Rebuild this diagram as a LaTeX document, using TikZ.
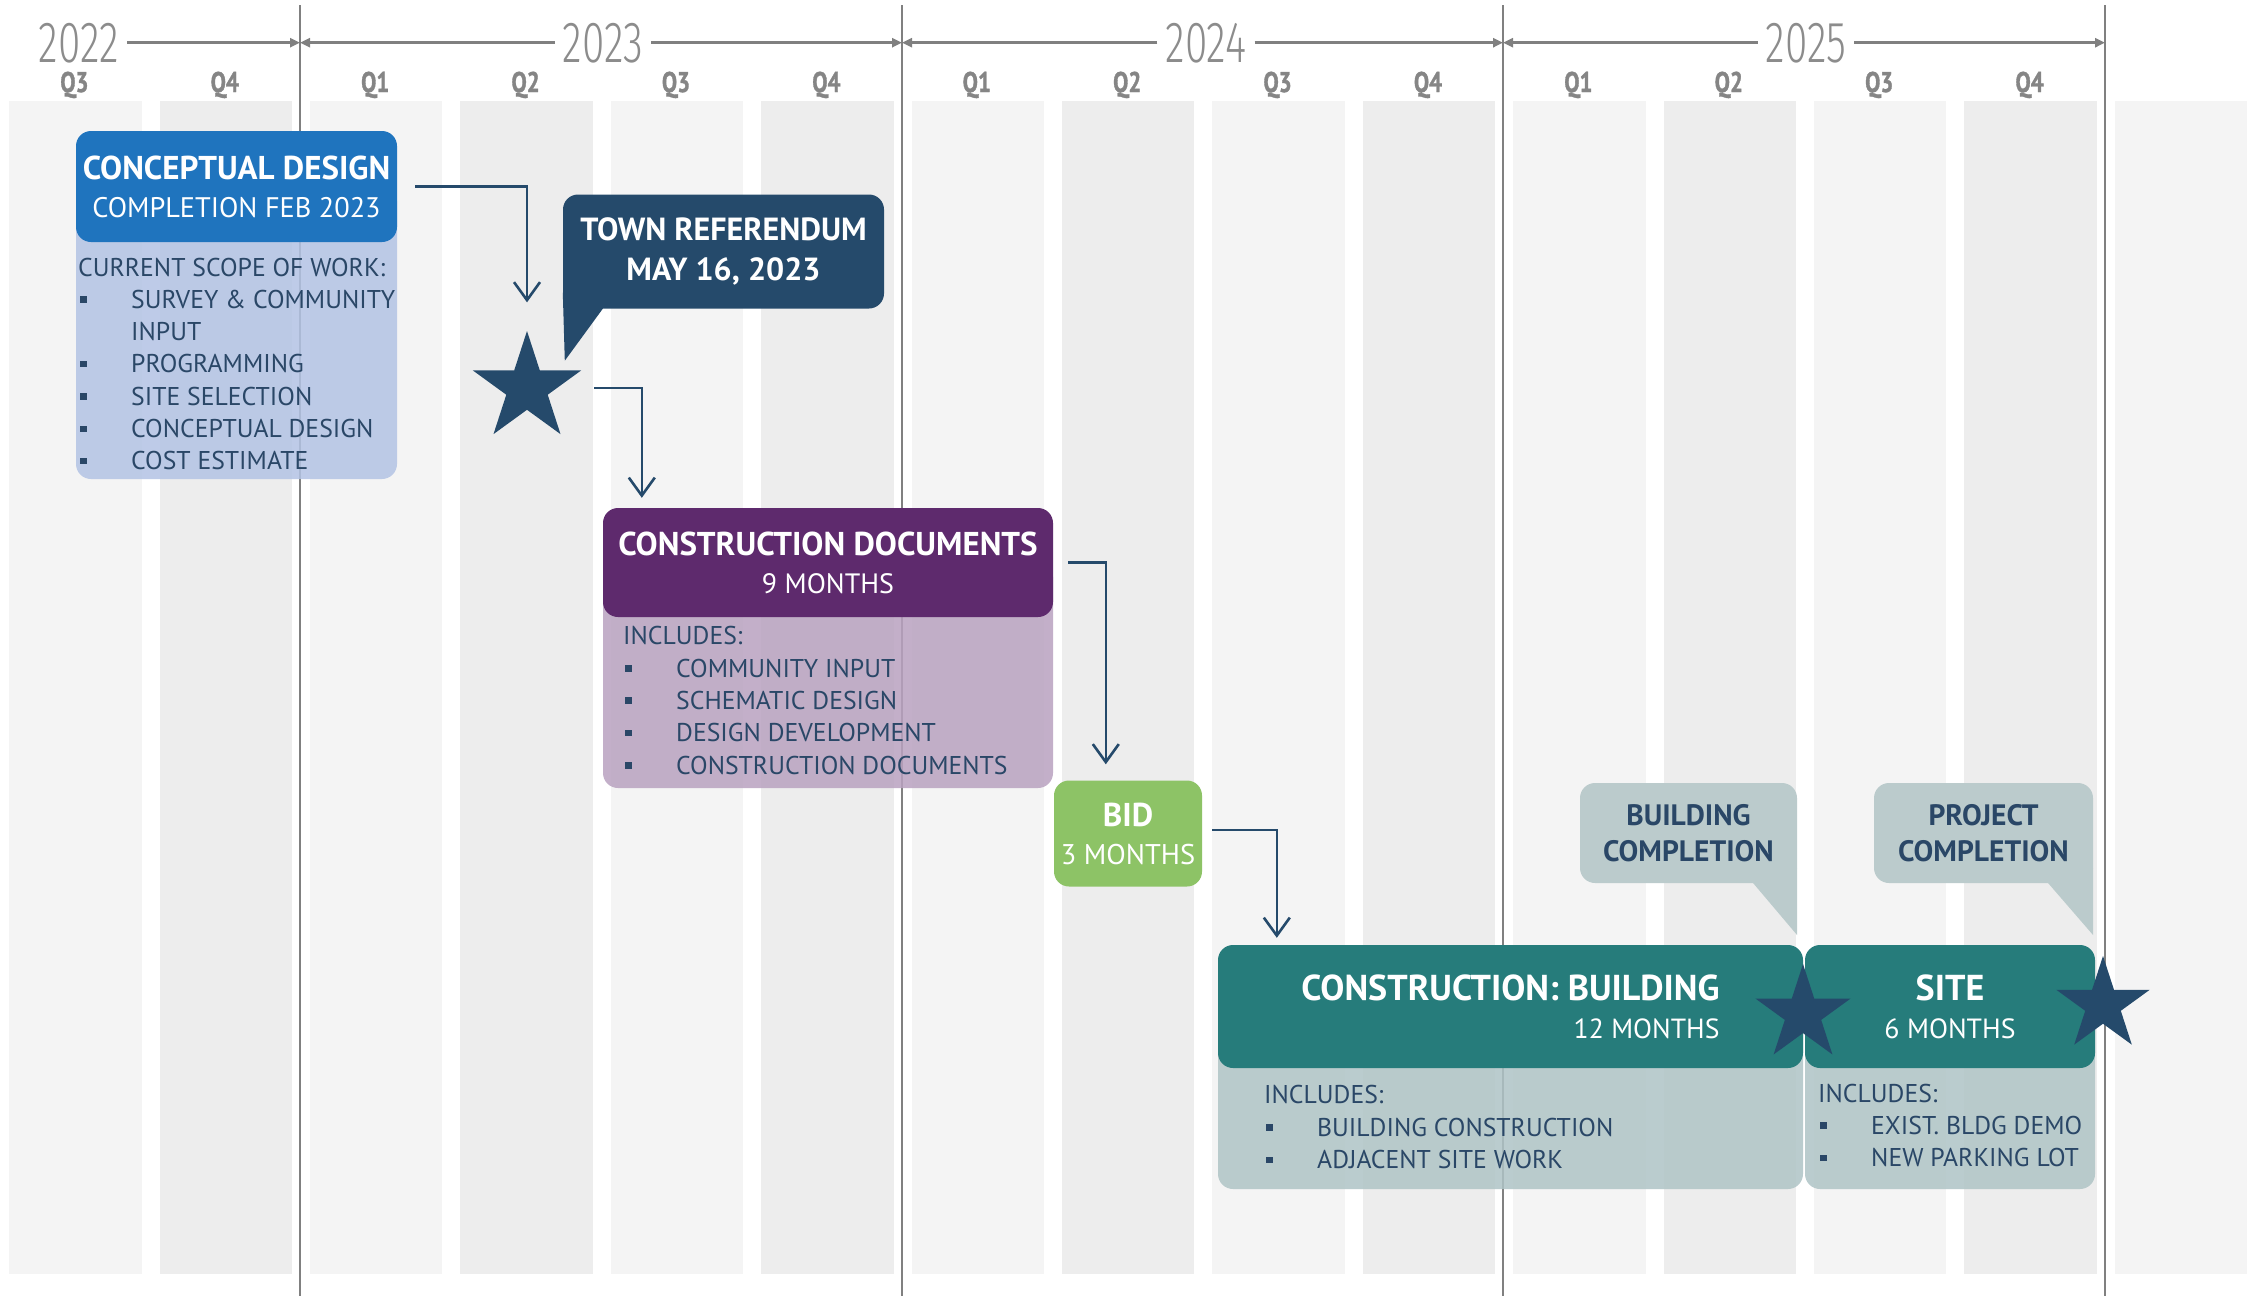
\documentclass[tikz,border=0pt]{standalone}
\usepackage{fontspec}
\setmainfont{PT Sans}
\newfontfamily\yearfont[FakeStretch=0.7]{Fira Sans Light}
\newfontfamily\qfont[FakeStretch=0.8,FakeBold=1.2]{PT Sans}
\usetikzlibrary{arrows.meta,shapes.geometric}
\definecolor{bandA}{HTML}{F4F4F4}
\definecolor{bandB}{HTML}{EDEDED}
\definecolor{yearline}{HTML}{808080}
\definecolor{yeartext}{HTML}{8C8C8C}
\definecolor{qtext}{HTML}{858585}
\definecolor{navy}{HTML}{254A6B}
\definecolor{cdblue}{HTML}{1F74BE}
\definecolor{cdbody}{HTML}{B3C3E4}
\definecolor{purp}{HTML}{5E2A6D}
\definecolor{purpbody}{HTML}{B9A2C0}
\definecolor{bidgreen}{HTML}{8DC366}
\definecolor{teal}{HTML}{267C7B}
\definecolor{tealbody}{HTML}{AFC4C6}
\definecolor{callcol}{HTML}{BBCBCC}
\definecolor{bodytext}{HTML}{2A4767}
\newcommand{\bulletitem}[1]{\makebox[53pt][l]{\hspace{2pt}\raisebox{5.5pt}{\rule{6.5pt}{6.5pt}}}#1}
\tikzset{
  hdr/.style={rectangle, rounded corners=15pt, inner sep=0pt, text=white, align=center,
    font=\fontsize{33}{38}\selectfont},
  callout/.style={rectangle, rounded corners=15pt, inner sep=0pt, fill=callcol, text=bodytext,
    align=center, font=\bfseries\fontsize{29.5}{36}\selectfont},
  bodytxt/.style={anchor=base west, inner sep=0pt, text=bodytext, font=\fontsize{25.7}{30}\selectfont},
  conn/.style={draw=navy, line width=2.6pt, -{Straight Barb[length=18pt,width=26pt]}},
  yeararr/.style={draw=yearline, line width=3pt, -{Triangle[length=10pt,width=9pt]}},
  yearlbl/.style={anchor=base, inner xsep=8pt, inner ysep=0pt, text=yeartext,
    font=\yearfont\fontsize{58}{58}\selectfont},
  qlbl/.style={anchor=base, inner sep=0pt, text=qtext, font=\qfont\bfseries\fontsize{28.5}{28.5}\selectfont},
  mstar/.style={star, star points=5, star point ratio=2.618, fill=navy, inner sep=0pt, draw=none},
  divline/.style={draw=yearline, line width=2.5pt},
  bodybox/.style={rounded corners=15pt, opacity=0.85}
}
\begin{document}
\begin{tikzpicture}[x=1pt,y=-1pt]
\useasboundingbox (0,0) rectangle (2262,1296);
\fill[white] (0,0) rectangle (2262,1296);
% quarter bands
\foreach \k in {0,...,14}{
  \pgfmathsetmacro\xs{-0.8+150.4*\k}
  \ifodd\k \def\bc{bandB}\else\def\bc{bandA}\fi
  \fill[\bc] (\xs+10,101) rectangle (\xs+142.4,1274);
}
% year dividers
\coordinate (d1) at (300,43);
\coordinate (d2) at (902,43);
\coordinate (d3) at (1503,43);
\coordinate (d4) at (2105,43);
\foreach \xx in {300,902,1503,2105}{
  \draw[divline] (\xx,5) -- (\xx,1296);
}
% years
\node[yearlbl] (y2022) at (79,62) {2022};
\node[yearlbl] (y2023) at (603,62) {2023};
\node[yearlbl] (y2024) at (1206,62) {2024};
\node[yearlbl] (y2025) at (1806,62) {2025};
\draw[yeararr] (y2022.east) -- (y2022.east -| d1);
\draw[yeararr] (y2023.west) -- (y2023.west -| d1);
\draw[yeararr] (y2023.east) -- (y2023.east -| d2);
\draw[yeararr] (y2024.west) -- (y2024.west -| d2);
\draw[yeararr] (y2024.east) -- (y2024.east -| d3);
\draw[yeararr] (y2025.west) -- (y2025.west -| d3);
\draw[yeararr] (y2025.east) -- (y2025.east -| d4);
% quarters
\foreach \k in {0,...,13}{
  \pgfmathtruncatemacro\q{mod(\k+2,4)+1}
  \node[qlbl] (q\k) at (74.4+150.4*\k,92) {Q\q};
}
% bodies
\fill[cdbody, bodybox] (76,186) rectangle (397,479);
\fill[purpbody, bodybox] (603,562) rectangle (1053,788);
\fill[tealbody, bodybox] (1218,1006) rectangle (1803,1189);
\fill[tealbody, bodybox] (1805,1006) rectangle (2095,1189);
% headers
\node[hdr, fill=cdblue, minimum width=321pt, minimum height=111pt] (cdhead) at (236.5,186.5)
  {\textbf{CONCEPTUAL DESIGN}\\{\fontsize{28.3}{38}\selectfont COMPLETION FEB 2023}};
\node[hdr, fill=purp, minimum width=450pt, minimum height=109pt] (cdoc) at (828,562.5)
  {\textbf{CONSTRUCTION DOCUMENTS}\\{\fontsize{28}{37}\selectfont 9 MONTHS}};
\node[hdr, fill=bidgreen, minimum width=148pt, minimum height=106pt] (bid) at (1128,833.5)
  {\textbf{BID}\\{\fontsize{28.5}{38}\selectfont 3 MONTHS}};
\node[hdr, fill=teal, align=right, font=\fontsize{36}{38}\selectfont, minimum width=585pt, minimum height=123pt] (build) at (1510.5,1006.5)
  {\textbf{CONSTRUCTION: BUILDING}\\{\fontsize{27.7}{38}\selectfont 12 MONTHS}};
\node[hdr, fill=teal, font=\fontsize{36}{38}\selectfont, minimum width=290pt, minimum height=123pt] (site) at (1950,1006.5)
  {\textbf{SITE}\\{\fontsize{27.8}{38}\selectfont 6 MONTHS}};
% callouts
\node[hdr, fill=navy, font=\bfseries\fontsize{32}{40}\selectfont, minimum width=321pt, minimum height=114pt] (town) at (723.5,251.5)
  {TOWN REFERENDUM\\MAY 16, 2023};
\fill[navy] ([yshift=16pt]town.south west) -- ([xshift=40pt,yshift=16pt]town.south west)
  -- ([xshift=40pt]town.south west) -- ([xshift=2pt,yshift=-52pt]town.south west) -- cycle;
\node[callout, minimum width=217pt, minimum height=100pt] (bcall) at (1688.5,833)
  {BUILDING\\COMPLETION};
\fill[callcol] ([yshift=15pt]bcall.south east) -- ([xshift=-44pt,yshift=15pt]bcall.south east)
  -- ([xshift=-44pt]bcall.south east) -- ([yshift=-52pt]bcall.south east) -- cycle;
\node[callout, minimum width=219pt, minimum height=100pt] (pcall) at (1983.5,833)
  {PROJECT\\COMPLETION};
\fill[callcol] ([yshift=15pt]pcall.south east) -- ([xshift=-45pt,yshift=15pt]pcall.south east)
  -- ([xshift=-45pt]pcall.south east) -- ([yshift=-52pt]pcall.south east) -- cycle;
% stars
\node[mstar, minimum size=114pt] (star1) at (527,388) {};
\node[mstar, minimum size=100pt] (star2) at (1803,1014) {};
\node[mstar, minimum size=98pt] (star3) at (2103,1005) {};
% connectors
\draw[conn] ([xshift=18pt]cdhead.east) -| ([yshift=28pt]star1.north);
\draw[conn] ([xshift=67pt]star1.center) -| ([xshift=39pt,yshift=10pt]cdoc.north west);
\draw[conn] ([xshift=15pt]cdoc.east) -| ([xshift=52pt,yshift=16pt]bid.north west);
\draw[conn] ([xshift=10pt,yshift=3.5pt]bid.east) -| ([xshift=59pt,yshift=7pt]build.north west);
% body texts
\node[bodytxt] (cb0) at (78,276) {CURRENT SCOPE OF WORK:};
\node[bodytxt] (cb1) at (78,308.3) {\bulletitem{SURVEY \& COMMUNITY}};
\node[bodytxt] (cb2) at (131,340.6) {INPUT};
\node[bodytxt] (cb3) at (78,372.9) {\bulletitem{PROGRAMMING}};
\node[bodytxt] (cb4) at (78,405.2) {\bulletitem{SITE SELECTION}};
\node[bodytxt] (cb5) at (78,437.5) {\bulletitem{CONCEPTUAL DESIGN}};
\node[bodytxt] (cb6) at (78,469.8) {\bulletitem{COST ESTIMATE}};
\node[bodytxt] (db0) at (623,644.5) {INCLUDES:};
\node[bodytxt] (db1) at (623,677) {\bulletitem{COMMUNITY INPUT}};
\node[bodytxt] (db2) at (623,709.3) {\bulletitem{SCHEMATIC DESIGN}};
\node[bodytxt] (db3) at (623,741.7) {\bulletitem{DESIGN DEVELOPMENT}};
\node[bodytxt] (db4) at (623,774) {\bulletitem{CONSTRUCTION DOCUMENTS}};
\node[bodytxt] (bb0) at (1264,1103.5) {INCLUDES:};
\node[bodytxt] (bb1) at (1264,1136) {\bulletitem{BUILDING CONSTRUCTION}};
\node[bodytxt] (bb2) at (1264,1168.5) {\bulletitem{ADJACENT SITE WORK}};
\node[bodytxt] (sb0) at (1818,1102.5) {INCLUDES:};
\node[bodytxt] (sb1) at (1818,1134) {\bulletitem{EXIST. BLDG DEMO}};
\node[bodytxt] (sb2) at (1818,1166.5) {\bulletitem{NEW PARKING LOT}};
\end{tikzpicture}
\end{document}
